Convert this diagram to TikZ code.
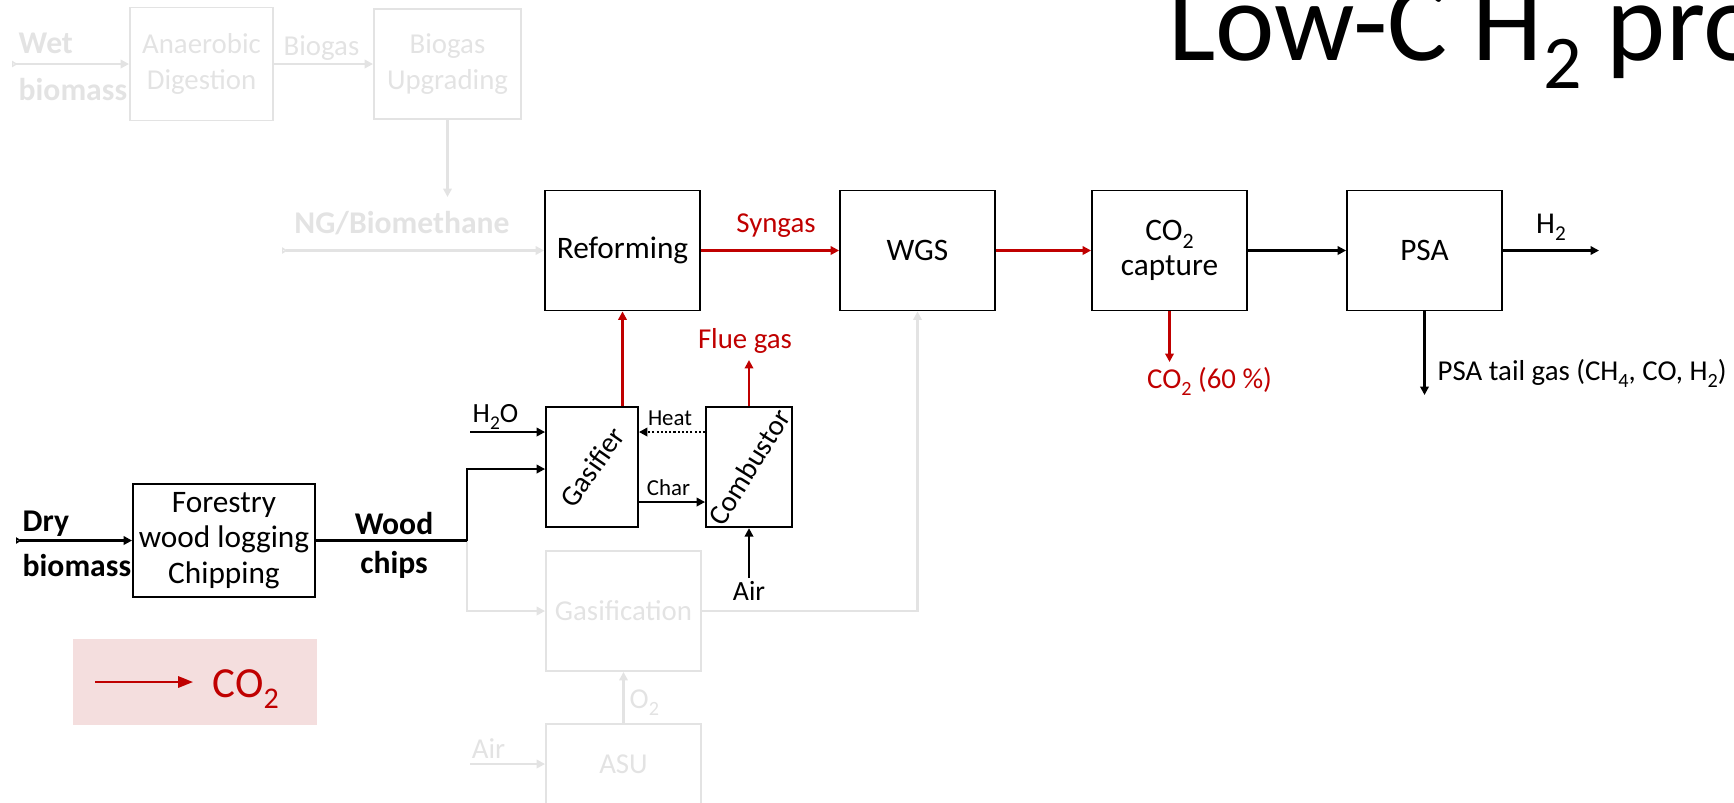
\documentclass[tikz,border=0pt]{standalone}
\usepackage{graphicx}
\usepackage{fontspec}
\setmainfont{Carlito}
\usetikzlibrary{arrows.meta}
\newcommand{\chsub}[1]{\raisebox{-0.55ex}{\scalebox{0.7}{#1}}}

\begin{document}
\begin{tikzpicture}[x=0.01cm, y=-0.01cm,
  every node/.style={inner sep=0pt, font=\fontsize{8.2}{9.5}\selectfont},
  unit/.style={draw, line width=0.5pt, minimum width=1.55cm, minimum height=1.2cm, align=center, font=\fontsize{8.9}{10}\selectfont},
  ghostunit/.style={unit, draw=ghost, text=ghost, font=\fontsize{8.2}{10}\selectfont},
  flow/.style={line width=0.6pt, -{Triangle[length=2.4pt,width=2.4pt]}},
  co2flow/.style={flow, draw=co2red},
  ghostflow/.style={flow, draw=ghost},
  feedflow/.style={line width=0.6pt, {Triangle[open,reversed,length=1.6pt,width=1.8pt,line width=0.4pt]}-{Triangle[length=2.4pt,width=2.4pt]}},
  tag/.style={anchor=base},
  inlet/.style={align=left}]
  \definecolor{co2red}{HTML}{C00000}
  \definecolor{ghost}{HTML}{E3E3E3}
  \definecolor{legendpink}{HTML}{F4DEDE}
  \useasboundingbox (0,0) rectangle (1734,802);

  \node[anchor=base west, font=\fontsize{32}{36}\selectfont] (title) at (1168,60)
    {Low-C H\raisebox{-8pt}{\fontsize{21.6}{24}\selectfont 2} pro};

  \node[ghostunit, minimum width=1.43cm, minimum height=1.13cm] (digest) at (201.5,64) {Anaerobic\\Digestion};
  \node[ghostunit, minimum width=1.47cm, minimum height=1.1cm] (upgrade) at (447.5,64) {Biogas\\Upgrading};
  \node[inlet, anchor=west, text=ghost, font=\fontsize{9}{13.4}\selectfont\bfseries] (wet) at (18,66.5) {Wet\\biomass};
  \coordinate (wetin) at (12,64);
  \draw[feedflow, draw=ghost] (wetin) -- (digest);
  \draw[ghostflow] (digest) -- (upgrade);
  \node[tag, text=ghost] (biogas) at (321.5,55) {Biogas};
  \coordinate (ngtip) at (447.5,197);
  \draw[ghostflow] (upgrade) -- (ngtip);
  \node[tag, text=ghost, font=\fontsize{9}{11}\selectfont\bfseries] (ngas) at (402,233) {NG/Biomethane};

  \node[unit] (reform) at (622.5,250.5) {Reforming};
  \node[unit] (wgs) at (917.5,250.5) {WGS};
  \node[unit] (capture) at (1169.5,250.5) {CO\chsub{2}\\capture};
  \node[unit] (psa) at (1424.5,250.5) {PSA};
  \coordinate (ngin) at (282,250.5);
  \draw[feedflow, draw=ghost] (ngin) -- (reform);
  \draw[co2flow] (reform) -- (wgs);
  \node[tag, text=co2red] (syngas) at (776,232) {Syngas};
  \draw[co2flow] (wgs) -- (capture);
  \draw[flow] (capture) -- (psa);
  \coordinate (h2out) at (1599,250.5);
  \draw[flow] (psa) -- (h2out);
  \node[tag, font=\fontsize{8.6}{10}\selectfont] (h2) at (1551,233) {H\chsub{2}};
  \coordinate (co2out) at (1169.5,362);
  \draw[co2flow] (capture) -- (co2out);
  \node[tag, text=co2red] (co2cap) at (1209.5,388) {CO\chsub{2} (60 \%)};
  \coordinate (tailout) at (1424.5,395);
  \draw[flow] (psa) -- (tailout);
  \node[anchor=base west] (tailgas) at (1437,380) {PSA tail gas (CH\chsub{4}, CO, H\chsub{2})};

  \node[unit, minimum width=0.92cm, font=\fontsize{8.2}{9}\selectfont] (gasifier) at (592,467) {\rotatebox{55}{Gasifier}};
  \node[unit, minimum width=0.86cm, font=\fontsize{8.2}{9}\selectfont] (combustor) at (749,467) {\rotatebox{58}{Combustor}};
  \draw[co2flow] (gasifier.north -| reform.south) -- (reform.south);
  \coordinate (flueout) at (749,360);
  \draw[co2flow] (combustor) -- (flueout);
  \node[tag, text=co2red] (flue) at (745,348) {Flue gas};
  \coordinate (toprow) at (470,432);
  \draw[flow] (toprow) -- (gasifier.west |- toprow);
  \node[tag, font=\fontsize{7.9}{9}\selectfont] (h2o) at (495.5,422) {H\chsub{2}O};
  \draw[flow, dash pattern=on 0.6pt off 0.6pt] (combustor.west |- toprow) -- (gasifier.east |- toprow);
  \node[tag, font=\fontsize{6.5}{7}\selectfont] (heat) at (670,425) {Heat};
  \coordinate (charrow) at (0,502);
  \draw[flow] (gasifier.east |- charrow) -- (combustor.west |- charrow);
  \node[tag, font=\fontsize{6.5}{7}\selectfont] (char) at (668.5,495) {Char};
  \coordinate (airin) at (749,578);
  \draw[flow] (airin) -- (combustor);
  \node[tag, font=\fontsize{7.9}{9}\selectfont] (air) at (749,600) {Air};

  \node[unit, minimum width=1.82cm, minimum height=1.13cm] (forest) at (224,540.5) {Forestry\\wood logging\\Chipping};
  \coordinate (dryin) at (16,540.5);
  \draw[feedflow] (dryin) -- (forest);
  \node[inlet, anchor=west, font=\fontsize{9}{12.8}\selectfont\bfseries] (dry) at (22,544) {Dry\\biomass};
  \coordinate (split) at (467,540.5);
  \coordinate (feedrow) at (0,469);

  \node[ghostunit] (gasification) at (623.5,611) {Gasification};
  \node[ghostunit, minimum height=0.8cm] (asu) at (623.5,764) {ASU};
  \draw[ghostflow] (split) |- (gasification);
  \draw[ghostflow] (gasification) -| (wgs);
  \draw[ghostflow] (asu) -- (gasification);
  \node[anchor=base west, text=ghost] (o2) at (629,708) {O\chsub{2}};
  \coordinate (airasuin) at (470,764);
  \draw[ghostflow] (airasuin) -- (asu);
  \node[tag, text=ghost] (airasu) at (488.5,758) {Air};

  \draw[line width=0.6pt] (forest) -- (split);
  \draw[flow] (split) |- (gasifier.west |- feedrow);
  \node[align=center, font=\fontsize{9}{11.1}\selectfont\bfseries] (chips) at (394,545) {Wood\\chips};

  \node[fill=legendpink, minimum width=2.44cm, minimum height=0.86cm] (legend) at (195,682) {};
  \coordinate (lgstart) at (95,682);
  \coordinate (lgend) at (193,682);
  \draw[co2flow, -{Triangle[length=4.2pt,width=3.2pt]}] (lgstart) -- (lgend);
  \node[anchor=base west, text=co2red, font=\fontsize{12.2}{14}\selectfont] (lgco2) at (212,697) {CO\chsub{2}};
\end{tikzpicture}
\end{document}
